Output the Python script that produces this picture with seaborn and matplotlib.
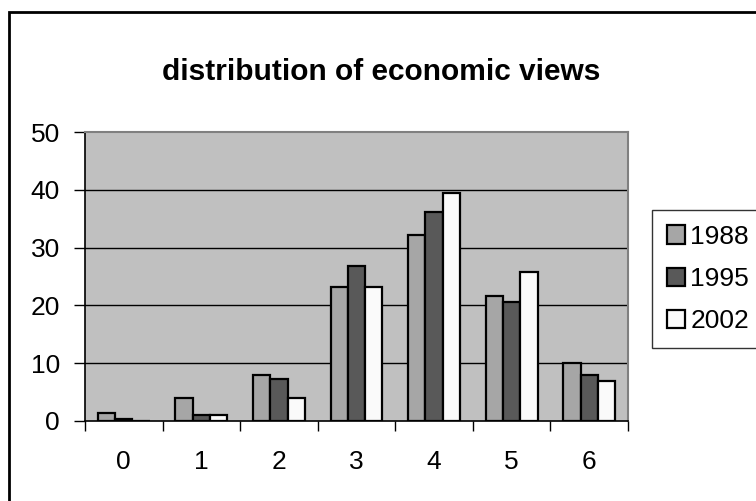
import pandas as pd
import seaborn as sns
import matplotlib.pyplot as plt
from matplotlib.patches import Rectangle

# values
categories = ['0', '1', '2', '3', '4', '5', '6']
years = ['1988', '1995', '2002']
v1988 = [1.4, 3.9, 7.9, 23.1, 32.1, 21.7, 10.1]
v1995 = [0.4, 1.1, 7.3, 26.9, 36.2, 20.6, 8.0]
v2002 = [0.0, 1.1, 3.9, 23.1, 39.4, 25.8, 7.0]
colors = ['#A6A6A6', '#595959', '#FAFAFA']

df = pd.DataFrame({
    'view': categories * 3,
    'year': [y for y in years for _ in categories],
    'pct': v1988 + v1995 + v2002,
})

sns.set_style('white')
plt.rcParams['font.family'] = ['Liberation Sans', 'DejaVu Sans']
plt.rcParams['text.color'] = 'black'
plt.rcParams['xtick.color'] = 'black'
plt.rcParams['ytick.color'] = 'black'

fig = plt.figure(figsize=(7.56, 5.01), dpi=100)
ax = fig.add_axes([85 / 756, 1 - 421 / 501, (628 - 85) / 756, (421 - 132) / 501])
ax.set_facecolor('#C0C0C0')

sns.barplot(data=df, x='view', y='pct', hue='year', palette=colors,
            width=0.667, gap=0, edgecolor='black', linewidth=1.6,
            saturation=1, ax=ax, legend=True)

ax.set_ylim(0, 50)
ax.set_xlim(-0.5, 6.5)
ax.set_yticks([0, 10, 20, 30, 40, 50])
for g in [10, 20, 30, 40]:
    ax.axhline(g, color='black', lw=1, zorder=0.5)
ax.set_xlabel('')
ax.set_ylabel('')

# category boundary ticks below the axis
ax.set_xticks([i - 0.5 for i in range(8)], minor=True)
ax.tick_params(axis='x', which='major', length=0, pad=21, labelsize=19, labelcolor='black')
ax.tick_params(axis='x', which='minor', length=7, width=1, color='black', direction='out', bottom=True)
ax.tick_params(axis='y', length=8, width=1, color='black', direction='out', left=True, pad=10,
               labelsize=19, labelcolor='black')

for side in ['top', 'right']:
    ax.spines[side].set_color('#808080')
    ax.spines[side].set_linewidth(1.5)
for side in ['left', 'bottom']:
    ax.spines[side].set_color('black')
    ax.spines[side].set_linewidth(1.2)

handles, labels = ax.get_legend_handles_labels()
ax.legend_.remove()
leg = fig.legend(handles, labels, loc='upper left', bbox_to_anchor=(652 / 756, 1 - 210 / 501),
                 fontsize=19, frameon=True, fancybox=False, edgecolor='black',
                 handlelength=0.7, handleheight=0.7, handletextpad=0.2,
                 labelspacing=0.7, borderpad=0.55, borderaxespad=0, labelcolor='black')
leg.get_frame().set_linewidth(1)

fig.text(381 / 756, 1 - 80 / 501, 'distribution of economic views', color='black',
         ha='center', va='baseline', fontsize=21.5, fontweight='bold')

fig.add_artist(Rectangle((9 / 756, -0.1), 1.2, 0.1 + 1 - 12 / 501, transform=fig.transFigure,
                         fill=False, edgecolor='black', linewidth=2))

fig.savefig('out.png', dpi=100)
